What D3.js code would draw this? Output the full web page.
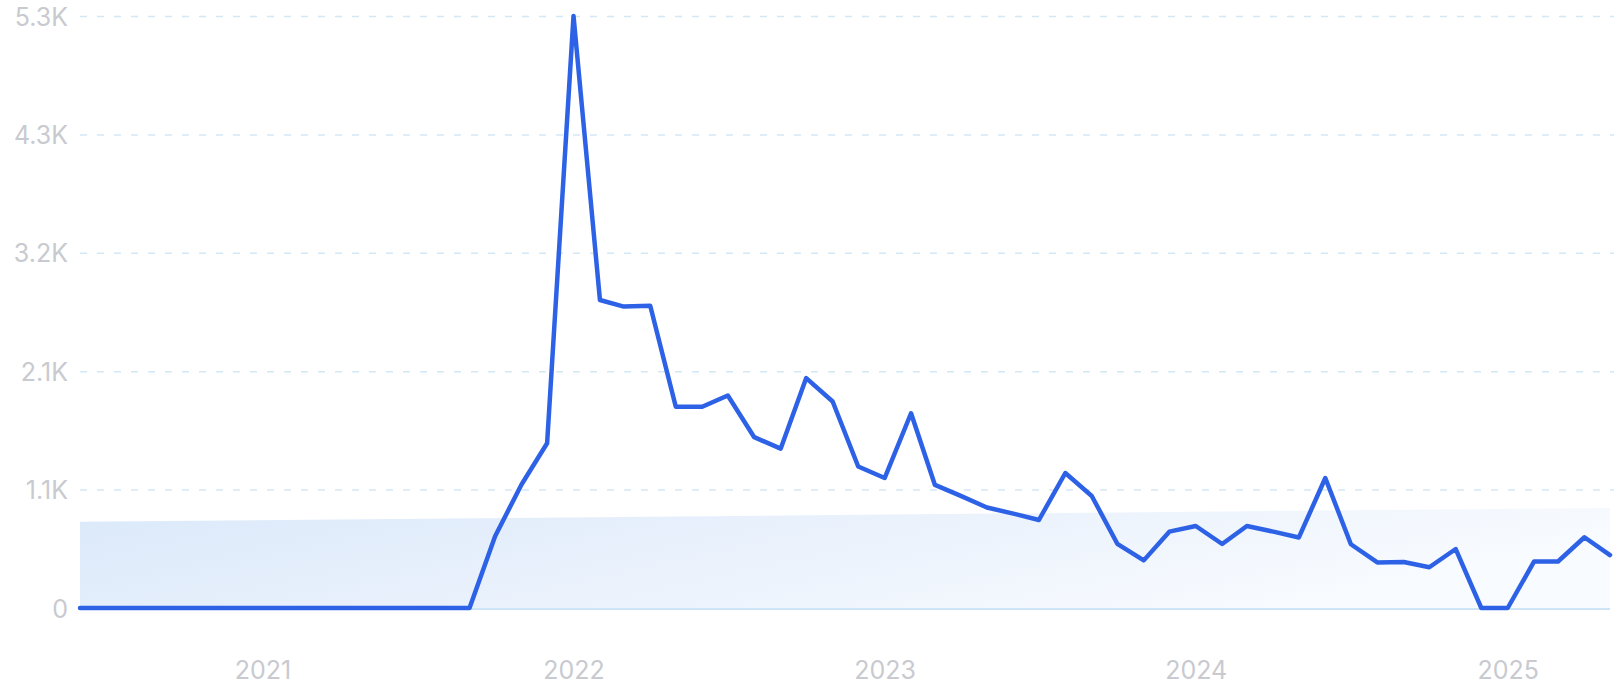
<!DOCTYPE html>
<html>
<head>
<meta charset="utf-8">
<script src="https://cdn.jsdelivr.net/npm/d3@7"></script>
<style>
  body { margin: 0; background: #fff; }
  .grid line { stroke: #d3e8f6; stroke-width: 1.5; stroke-dasharray: 7 10; }
  .grid .domain { display: none; }
  .axis text { font-family: Inter, "Noto Sans", sans-serif; font-size: 25px; fill: #c8cad0; }
  .axis .domain, .axis line { display: none; }
  .chartLine { fill: none; stroke: #2e62e6; stroke-width: 4.5; stroke-linejoin: round; stroke-linecap: round; }
</style>
</head>
<body>
<svg id="chart" width="1615" height="700"></svg>
<script>
// monthly values, Jun 2020 .. May 2025
var months = d3.timeMonths(new Date(2020, 5, 1), new Date(2025, 5, 1))
var values = [
  0, 0, 0, 0, 0, 0, 0, 0, 0, 0, 0, 0, 0, 0, 0, 0,   // Jun 2020 - Sep 2021
  645, 1110, 1480, 5320, 2768, 2709, 2716, 1808, 1808, 1910,
  1535, 1432, 2066, 1856, 1272, 1168, 1750, 1106, 1005, 903,
  848, 791, 1213, 1007, 577, 428, 686, 737, 575, 737,
  686, 634, 1168, 573, 410, 414, 366, 530, 0, 0,
  418, 418, 636, 476
]
// trend band, value at first and last month
var trendValues = [775, 898]
var yTicks = [0, 1064, 2128, 3192, 4256, 5320]
var yTickLabels = ["0", "1.1K", "2.1K", "3.2K", "4.3K", "5.3K"]
var xTickYears = [2021, 2022, 2023, 2024, 2025]

// plot box (note: "top" is taken by window.top)
var plotLeft = 80, plotRight = 1610, plotTop = 16, plotBottom = 608

var xScale = d3.scaleTime()
    .domain([months[0], months[months.length - 1]])
    .range([plotLeft, plotRight])

var yScale = d3.scaleLinear()
    .domain([0, 5320])
    .range([plotBottom, plotTop])

var svg = d3.select("#chart")

// gradient for the trend band
var grad = svg.append("defs").append("linearGradient")
    .attr("id", "trendFill")
    .attr("x1", "0").attr("y1", "0").attr("x2", "1").attr("y2", "0.3")
grad.append("stop").attr("offset", "0%").attr("stop-color", "#dbe9fa")
grad.append("stop").attr("offset", "55%").attr("stop-color", "#ebf2fc")
grad.append("stop").attr("offset", "100%").attr("stop-color", "#f8fbff")

// y gridlines (dashed)
svg.append("g")
    .attr("class", "grid")
    .attr("transform", "translate(" + plotLeft + ",0)")
    .call(d3.axisLeft(yScale)
        .tickValues(yTicks.slice(1))
        .tickSize(-(plotRight - plotLeft + 4))
        .tickFormat(""))

// trend band
var trendData = [
  { d: months[0], v: trendValues[0] },
  { d: months[months.length - 1], v: trendValues[1] }
]
svg.append("path")
    .datum(trendData)
    .attr("fill", "url(#trendFill)")
    .attr("d", d3.area()
        .x(function(d) { return xScale(d.d) })
        .y0(yScale(0))
        .y1(function(d) { return yScale(d.v) }))

// zero line
svg.append("line")
    .attr("x1", plotLeft).attr("x2", plotRight)
    .attr("y1", yScale(0) + 1).attr("y2", yScale(0) + 1)
    .attr("stroke", "#cde5f7")
    .attr("stroke-width", 2)

// y axis labels
svg.append("g")
    .attr("class", "y axis")
    .attr("transform", "translate(" + (plotLeft - 12) + ",1)")
    .call(d3.axisLeft(yScale)
        .tickValues(yTicks)
        .tickSize(0)
        .tickPadding(0)
        .tickFormat(function(d, i) { return yTickLabels[i] }))

// x axis labels
svg.append("g")
    .attr("class", "x axis")
    .attr("transform", "translate(0," + (plotBottom + 53) + ")")
    .call(d3.axisBottom(xScale)
        .tickValues(xTickYears.map(function(y) { return new Date(y, 0, 1) }))
        .tickSize(0)
        .tickPadding(0)
        .tickFormat(d3.timeFormat("%Y")))

// the series line
var line = d3.line()
    .x(function(d, i) { return xScale(months[i]) })
    .y(function(d) { return yScale(d) })

svg.append("path")
    .datum(values)
    .attr("class", "chartLine")
    .attr("d", line)
</script>
</body>
</html>
